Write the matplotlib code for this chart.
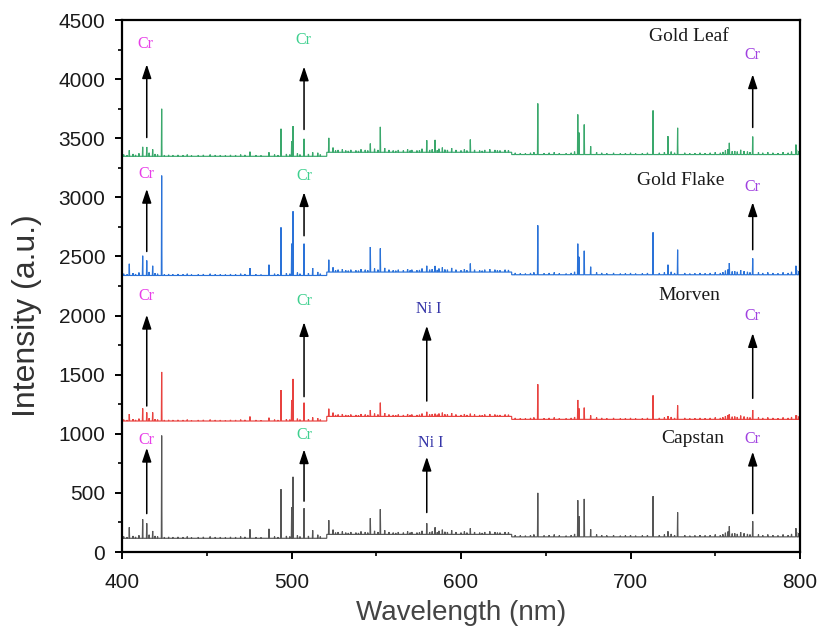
import numpy as np
import matplotlib
matplotlib.use("Agg")
import matplotlib.pyplot as plt
from matplotlib.ticker import MultipleLocator

# ---------------- data ----------------
samples = ["Capstan", "Morven", "Gold Flake", "Gold Leaf"]
colors = ["#555555", "#e8423f", "#2a72d8", "#3aa86c"]

# baseline levels for the three detector segments (400-520.8, 520.8-629.9, 629.9-800 nm)
segment_edges = [400.0, 520.8, 629.9, 800.0]
baseline_capstan = [116, 149, 128]
baseline_morven = [1108, 1147, 1122]
baseline_goldflake = [2339, 2368, 2345]
baseline_goldleaf = [3347, 3381, 3362]

# main emission lines (nm)
main_lines = [404.3, 412.2, 414.6, 418.1, 423.4, 475.5, 486.7, 493.8, 500.1, 500.9,
              507.4, 512.5, 522.0, 546.5, 552.4, 579.8, 584.7, 605.5, 645.3, 668.9,
              669.6, 672.7, 676.5, 713.3, 722.1, 727.8, 758.3, 772.1, 797.6]
# peak tops (a.u.) for each sample at the main lines
tops_capstan = [209, 277, 243, 178, 985, 192, 196, 531, 379, 636,
                370, 184, 269, 286, 362, 243, 209, 200, 500, 438,
                303, 449, 192, 472, 175, 336, 218, 260, 201]
tops_morven = [1167, 1215, 1181, 1181, 1523, 1146, 1136, 1370, 1286, 1464,
               1263, 1139, 1212, 1201, 1263, 1186, 1170, 1170, 1419, 1286,
               1215, 1221, 1156, 1325, 1150, 1241, 1167, 1201, 1156]
tops_goldflake = [2438, 2506, 2466, 2421, 3184, 2402, 2430, 2746, 2608, 2882,
                  2608, 2402, 2472, 2580, 2568, 2421, 2420, 2440, 2763, 2608,
                  2497, 2548, 2413, 2704, 2430, 2557, 2444, 2483, 2421]
tops_goldleaf = [3398, 3427, 3426, 3406, 3749, 3386, 3381, 3580, 3475, 3602,
                 3495, 3381, 3503, 3455, 3596, 3483, 3486, 3489, 3794, 3701,
                 3548, 3616, 3432, 3735, 3517, 3588, 3461, 3514, 3446]

# weak lines shared by all spectra (nm, height above baseline)
weak_lines = [401, 403, 406.5, 408, 410, 416, 419.5, 421, 425, 427.5, 430, 433, 436, 438.5,
              441, 445, 448, 452, 455, 458, 461, 464, 467, 470, 472.5, 479, 482, 490, 492,
              497, 499, 503.5, 505, 510, 515.5, 517,
              524.5, 526, 527.5, 530, 532, 533.5, 535, 538, 539.5, 541, 543.5, 545, 549, 551,
              555, 557.5, 560, 561.5, 563, 566, 568.5, 570, 571, 574, 575.5, 577, 581.5, 583,
              586, 587, 589, 590.5, 592, 594.5, 597, 600, 602, 603.5, 608, 611, 612.5, 614,
              617, 620, 621.5, 623, 626, 628,
              632, 635, 638, 641, 643, 649, 652, 655, 658, 662, 665, 667, 680, 683, 686,
              690, 694, 697, 700, 703, 707, 710, 717, 720, 724, 726, 732, 735, 738, 741,
              744, 747, 750, 753, 754.5, 756, 757.5, 760, 761.5, 763, 765, 767, 769, 770.5,
              775.5, 778, 781, 784, 787, 790, 793, 795, 798, 799.3]
weak_heights = [15, 10, 20, 12, 25, 30, 20, 15, 10, 12, 10, 12, 10, 15,
                8, 10, 12, 15, 10, 10, 8, 12, 10, 15, 12, 10, 8, 15, 10,
                20, 15, 25, 15, 20, 30, 15,
                40, 15, 20, 25, 15, 12, 20, 15, 12, 25, 20, 15, 30, 20,
                35, 20, 15, 12, 20, 15, 25, 15, 20, 15, 18, 30, 20, 25,
                18, 30, 40, 22, 20, 35, 20, 15, 25, 15, 20, 15, 12, 20,
                25, 20, 15, 15, 20, 18,
                15, 12, 10, 15, 20, 12, 15, 20, 12, 10, 15, 25, 20, 15, 12,
                15, 10, 12, 15, 10, 12, 15, 15, 20, 25, 15, 15, 10, 12, 15,
                12, 15, 20, 15, 22, 35, 45, 28, 30, 25, 40, 30, 25, 20,
                20, 15, 20, 15, 12, 20, 15, 25, 40, 30]
weak_scale = [1.0, 0.8, 1.0, 1.0]

# annotations: (wavelength, arrow tail, arrow head, label, label y, label x, label colour)
cr1_color, cr2_color, cr3_color, ni_color = "#e83ee8", "#3fd08f", "#a040e0", "#3535a8"
annotations = [
    # Gold Leaf
    (414.6, 3506, 4125, "Cr", 4296, 413.6, cr1_color),
    (507.4, 3574, 4106, "Cr", 4328, 506.8, cr2_color),
    (772.1, 3591, 4040, "Cr", 4201, 771.7, cr3_color),
    # Gold Flake
    (414.6, 2542, 3071, "Cr", 3201, 414.6, cr1_color),
    (507.4, 2675, 3043, "Cr", 3178, 507.4, cr2_color),
    (772.1, 2557, 2958, "Cr", 3085, 772.1, cr3_color),
    # Morven
    (414.6, 1235, 2006, "Cr", 2167, 414.6, cr1_color),
    (507.4, 1314, 1944, "Cr", 2119, 507.4, cr2_color),
    (579.8, 1277, 1913, "Ni I", 2054, 580.7, ni_color),
    (772.1, 1300, 1851, "Cr", 1997, 772.1, cr3_color),
    # Capstan
    (414.6, 325, 881, "Cr", 947, 414.6, cr1_color),
    (507.4, 430, 868, "Cr", 989, 507.4, cr2_color),
    (579.8, 334, 805, "Ni I", 918, 582.0, ni_color),
    (772.1, 325, 848, "Cr", 952, 772.1, cr3_color),
]
name_x = [736.6, 734.6, 729.6, 734.5]
name_y = [961, 2167, 3144, 4364]

x_ticks = [400, 500, 600, 700, 800]
y_ticks = [0, 500, 1000, 1500, 2000, 2500, 3000, 3500, 4000, 4500]

baselines = [baseline_capstan, baseline_morven, baseline_goldflake, baseline_goldleaf]
tops = [tops_capstan, tops_morven, tops_goldflake, tops_goldleaf]


def base_at(lam, levels):
    for i in range(3):
        if lam < segment_edges[i + 1]:
            return levels[i]
    return levels[2]


def build_spectrum(levels, main_tops, wscale):
    peaks = [(l, t) for l, t in zip(main_lines, main_tops)]
    peaks += [(l, base_at(l, levels) + h * wscale) for l, h in zip(weak_lines, weak_heights)]
    peaks.sort()
    xs, ys = [], []
    xs.append(400.0); ys.append(levels[0])
    edges_done = [False, False]
    d = 0.2
    for lam, top in peaks:
        for k, e in enumerate(segment_edges[1:3]):
            if not edges_done[k] and lam > e:
                xs += [e, e]; ys += [levels[k], levels[k + 1]]
                edges_done[k] = True
        b = base_at(lam, levels)
        xs += [lam - d, lam, lam + d]
        ys += [b, top, b]
    xs.append(800.0); ys.append(levels[2])
    return np.array(xs), np.array(ys)


# ---------------- figure ----------------
plt.rcParams["font.family"] = ["Liberation Sans", "DejaVu Sans"]
fig = plt.figure(figsize=(8.17, 6.34), dpi=100)
ax = fig.add_axes([122 / 817, 1 - 552 / 634, (800 - 122) / 817, (552 - 20) / 634])

for name, col, lev, tp, ws in zip(samples, colors, baselines, tops, weak_scale):
    xs, ys = build_spectrum(lev, tp, ws)
    ax.plot(xs, ys, color=col, lw=0.85, solid_joinstyle="miter")

for lam, tail, head, lab, ly, lx, lc in annotations:
    ax.annotate("", xy=(lam, head), xytext=(lam, tail),
                arrowprops=dict(arrowstyle="-|>,head_length=0.6,head_width=0.2",
                                color="black", lw=1.1, mutation_scale=14,
                                shrinkA=0, shrinkB=0))
    ax.text(lx, ly, lab, color=lc, fontsize=11.5, ha="center", va="center",
            family=["Liberation Serif", "DejaVu Serif"])

for nm, nx, ny in zip(samples, name_x, name_y):
    ax.text(nx, ny, nm, color="#1a1a1a", fontsize=14, ha="center", va="center",
            family=["Liberation Serif", "DejaVu Serif"])

ax.set_xlim(400, 800)
ax.set_ylim(0, 4500)
ax.set_xticks(x_ticks)
ax.set_yticks(y_ticks)
ax.xaxis.set_minor_locator(MultipleLocator(50))
ax.yaxis.set_minor_locator(MultipleLocator(250))
ax.tick_params(which="major", direction="out", length=5, width=1.4,
               labelsize=15, labelcolor="#1a1a1a")
ax.tick_params(which="minor", direction="out", length=3, width=1.2)
ax.tick_params(axis="x", which="major", pad=10)
ax.tick_params(axis="y", which="major", pad=7)
for s in ax.spines.values():
    s.set_linewidth(1.6)

fig.text(27 / 817, 1 - 316 / 634, "Intensity (a.u.)", rotation=90, fontsize=23,
         color="#333333", ha="center", va="center")
fig.text(461 / 817, 1 - 613 / 634, "Wavelength (nm)", fontsize=20,
         color="#444444", ha="center", va="center")

fig.savefig("out.png", dpi=100)
